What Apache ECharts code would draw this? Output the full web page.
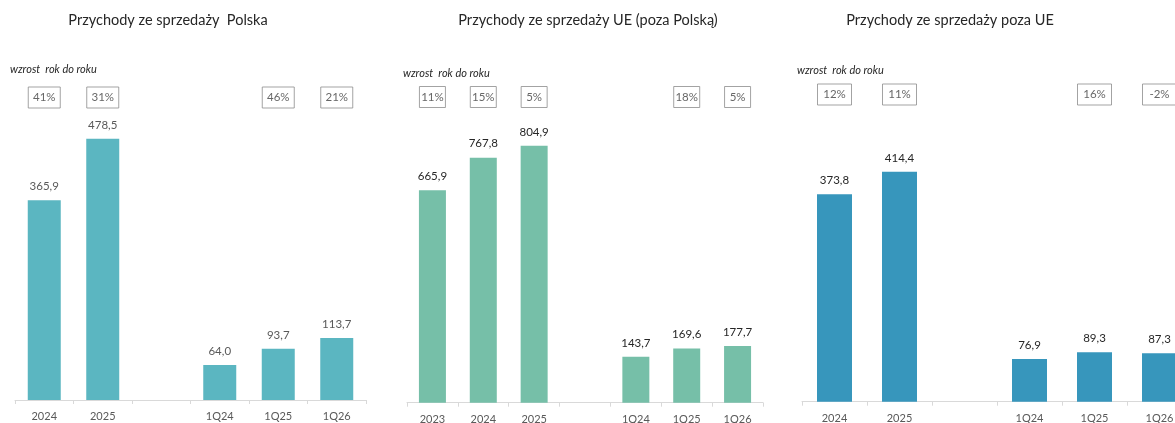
<!DOCTYPE html>
<html>
<head>
<meta charset="utf-8">
<script src="https://cdn.jsdelivr.net/npm/echarts@6/dist/echarts.min.js"></script>
<style>
  html, body { margin: 0; padding: 0; background: #fff; }
  #chart { width: 1175px; height: 423px; }
</style>
</head>
<body>
<div id="chart"></div>
<script>
// dane - Polska
var catsPL = ['2024', '2025', '', '1Q24', '1Q25', '1Q26'];
var valsPL = [365.9, 478.5, null, 64.0, 93.7, 113.7];
var growthPL = ['41%', '31%', null, null, '46%', '21%'];

// dane - UE (poza Polska)
var catsUE = ['2023', '2024', '2025', '', '1Q24', '1Q25', '1Q26'];
var valsUE = [665.9, 767.8, 804.9, null, 143.7, 169.6, 177.7];
var growthUE = ['11%', '15%', '5%', null, null, '18%', '5%'];

// dane - poza UE
var catsEX = ['2024', '2025', '', '1Q24', '1Q25', '1Q26'];
var valsEX = [373.8, 414.4, null, 76.9, 89.3, 87.3];
var growthEX = ['12%', '11%', null, null, '16%', '-2%'];

var titles = ['Przychody ze sprzedaży  Polska', 'Przychody ze sprzedaży UE (poza Polską)', 'Przychody ze sprzedaży poza UE'];
var subTitle = 'wzrost  rok do roku';

var FONT = 'Lato, "Open Sans", sans-serif';

// ustawienia paneli
var panels = [
  { cats: catsPL, vals: valsPL, growth: growthPL, left: 15, width: 351, bottom: 400, max: 623, barW: 33, color: '#5BB6C1', labelColor: '#595959', boxY: 97.5, titleX: 168, subX: 10, subY: 69 },
  { cats: catsUE, vals: valsUE, growth: growthUE, left: 407, width: 356, bottom: 402.7, max: 1074, barW: 27, color: '#76BFA8', labelColor: '#262626', boxY: 97, titleX: 588, subX: 403, subY: 73 },
  { cats: catsEX, vals: valsEX, growth: growthEX, left: 802, width: 390, bottom: 401.7, max: 616, barW: 35, color: '#3796BC', labelColor: '#262626', boxY: 94.5, titleX: 950, subX: 797, subY: 70 }
];

var TOP = 60;
var grids = [], xAxes = [], yAxes = [], series = [], graphics = [];

function fmt(v) {
  return v.toFixed(1).replace('.', ',');
}

panels.forEach(function (p, i) {
  var h = p.bottom - TOP;
  grids.push({ left: p.left, top: TOP, width: p.width, height: h, outerBoundsMode: 'none', containLabel: false });
  xAxes.push({
    type: 'category',
    gridIndex: i,
    data: p.cats,
    axisLine: { lineStyle: { color: '#D9D9D9' } },
    axisTick: { show: true, length: 4, interval: 0, lineStyle: { color: '#D9D9D9' } },
    axisLabel: { interval: 0, color: '#595959', fontSize: 11, fontFamily: FONT, margin: 11 }
  });
  yAxes.push({ type: 'value', gridIndex: i, min: 0, max: p.max, show: false });

  series.push({
    type: 'bar',
    xAxisIndex: i,
    yAxisIndex: i,
    data: p.vals,
    barWidth: p.barW,
    itemStyle: { color: p.color },
    label: {
      show: true,
      position: 'top',
      distance: 8,
      color: p.labelColor,
      fontSize: 11.5,
      fontFamily: FONT,
      formatter: function (d) { return fmt(d.value); }
    },
    silent: true
  });

  // ramki z wzrostem r/r - pozycja w y liczona od dolu siatki
  var boxVal = (p.bottom - p.boxY) / h * p.max;
  var boxData = [];
  p.growth.forEach(function (g, k) {
    if (g != null) boxData.push([k, boxVal, g]);
  });
  series.push({
    type: 'scatter',
    xAxisIndex: i,
    yAxisIndex: i,
    symbolSize: 0,
    data: boxData,
    label: {
      show: true,
      position: 'inside',
      formatter: function (d) { return d.value[2]; },
      width: p.barW - 1,
      height: 21,
      lineHeight: 21,
      align: 'center',
      verticalAlign: 'middle',
      borderColor: '#8C8C8C',
      borderWidth: 1,
      color: '#404040',
      fontSize: 11.5,
      fontFamily: FONT
    },
    silent: true
  });

  graphics.push({
    type: 'text', x: p.titleX, y: 20,
    style: { text: titles[i], fill: '#262626', font: '14.5px ' + FONT, textAlign: 'center', textVerticalAlign: 'middle' }
  });
  graphics.push({
    type: 'text', x: p.subX, y: p.subY,
    style: { text: subTitle, fill: '#262626', font: 'italic 11px ' + FONT, textAlign: 'left', textVerticalAlign: 'middle' }
  });
});

var chart = echarts.init(document.getElementById('chart'));
chart.setOption({
  animation: false,
  grid: grids,
  xAxis: xAxes,
  yAxis: yAxes,
  series: series,
  graphic: graphics
});
</script>
</body>
</html>
